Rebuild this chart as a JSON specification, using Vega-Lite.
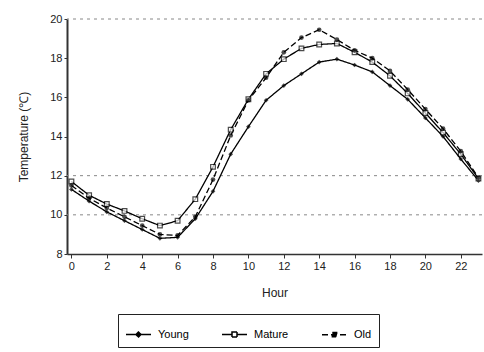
{
  "$schema": "https://vega.github.io/schema/vega-lite/v6.json",
  "autosize": {"type": "none"},
  "width": 415,
  "height": 235,
  "padding": {"left": 67, "top": 19, "right": 2, "bottom": 98},
  "background": "white",
  "config": {
    "font": "Liberation Sans",
    "view": {"stroke": null},
    "axis": {"labelFont": "Liberation Sans", "titleFont": "Liberation Sans", "labelColor": "#222", "titleColor": "#222", "domainColor": "#333", "tickColor": "#333", "grid": false, "labelOverlap": false},
    "axisX": {"values": [0,1,2,3,4,5,6,7,8,9,10,11,12,13,14,15,16,17,18,19,20,21,22,23], "labelExpr": "datum.value % 2 === 0 ? datum.label : ''", "titleFontSize": 12, "titleFontWeight": "normal", "labelFontSize": 11, "tickSize": 4, "titlePadding": 16, "domainWidth": 1.5},
    "axisY": {"values": [8,10,12,14,16,18,20], "titleFontSize": 12, "titleFontWeight": "normal", "labelFontSize": 11, "tickSize": 3, "titlePadding": 19, "domainWidth": 2}
  },
  "datasets": {
    "temps": [
      {"Hour": 0, "Stage": "Young", "T": 11.3}, {"Hour": 1, "Stage": "Young", "T": 10.7}, {"Hour": 2, "Stage": "Young", "T": 10.15}, {"Hour": 3, "Stage": "Young", "T": 9.7}, {"Hour": 4, "Stage": "Young", "T": 9.25}, {"Hour": 5, "Stage": "Young", "T": 8.8}, {"Hour": 6, "Stage": "Young", "T": 8.85}, {"Hour": 7, "Stage": "Young", "T": 9.8}, {"Hour": 8, "Stage": "Young", "T": 11.2}, {"Hour": 9, "Stage": "Young", "T": 13.1}, {"Hour": 10, "Stage": "Young", "T": 14.5}, {"Hour": 11, "Stage": "Young", "T": 15.85}, {"Hour": 12, "Stage": "Young", "T": 16.6}, {"Hour": 13, "Stage": "Young", "T": 17.2}, {"Hour": 14, "Stage": "Young", "T": 17.8}, {"Hour": 15, "Stage": "Young", "T": 17.95}, {"Hour": 16, "Stage": "Young", "T": 17.65}, {"Hour": 17, "Stage": "Young", "T": 17.3}, {"Hour": 18, "Stage": "Young", "T": 16.6}, {"Hour": 19, "Stage": "Young", "T": 15.9}, {"Hour": 20, "Stage": "Young", "T": 14.95}, {"Hour": 21, "Stage": "Young", "T": 14.0}, {"Hour": 22, "Stage": "Young", "T": 12.85}, {"Hour": 23, "Stage": "Young", "T": 11.75},
      {"Hour": 0, "Stage": "Mature", "T": 11.7}, {"Hour": 1, "Stage": "Mature", "T": 11.0}, {"Hour": 2, "Stage": "Mature", "T": 10.55}, {"Hour": 3, "Stage": "Mature", "T": 10.2}, {"Hour": 4, "Stage": "Mature", "T": 9.8}, {"Hour": 5, "Stage": "Mature", "T": 9.45}, {"Hour": 6, "Stage": "Mature", "T": 9.7}, {"Hour": 7, "Stage": "Mature", "T": 10.8}, {"Hour": 8, "Stage": "Mature", "T": 12.45}, {"Hour": 9, "Stage": "Mature", "T": 14.35}, {"Hour": 10, "Stage": "Mature", "T": 15.9}, {"Hour": 11, "Stage": "Mature", "T": 17.2}, {"Hour": 12, "Stage": "Mature", "T": 17.95}, {"Hour": 13, "Stage": "Mature", "T": 18.5}, {"Hour": 14, "Stage": "Mature", "T": 18.7}, {"Hour": 15, "Stage": "Mature", "T": 18.75}, {"Hour": 16, "Stage": "Mature", "T": 18.3}, {"Hour": 17, "Stage": "Mature", "T": 17.8}, {"Hour": 18, "Stage": "Mature", "T": 17.1}, {"Hour": 19, "Stage": "Mature", "T": 16.2}, {"Hour": 20, "Stage": "Mature", "T": 15.2}, {"Hour": 21, "Stage": "Mature", "T": 14.2}, {"Hour": 22, "Stage": "Mature", "T": 13.1}, {"Hour": 23, "Stage": "Mature", "T": 11.85},
      {"Hour": 0, "Stage": "Old", "T": 11.5}, {"Hour": 1, "Stage": "Old", "T": 10.85}, {"Hour": 2, "Stage": "Old", "T": 10.35}, {"Hour": 3, "Stage": "Old", "T": 9.9}, {"Hour": 4, "Stage": "Old", "T": 9.45}, {"Hour": 5, "Stage": "Old", "T": 9.0}, {"Hour": 6, "Stage": "Old", "T": 8.95}, {"Hour": 7, "Stage": "Old", "T": 9.9}, {"Hour": 8, "Stage": "Old", "T": 11.8}, {"Hour": 9, "Stage": "Old", "T": 14.05}, {"Hour": 10, "Stage": "Old", "T": 15.85}, {"Hour": 11, "Stage": "Old", "T": 17.0}, {"Hour": 12, "Stage": "Old", "T": 18.3}, {"Hour": 13, "Stage": "Old", "T": 19.05}, {"Hour": 14, "Stage": "Old", "T": 19.45}, {"Hour": 15, "Stage": "Old", "T": 18.95}, {"Hour": 16, "Stage": "Old", "T": 18.4}, {"Hour": 17, "Stage": "Old", "T": 18.0}, {"Hour": 18, "Stage": "Old", "T": 17.35}, {"Hour": 19, "Stage": "Old", "T": 16.4}, {"Hour": 20, "Stage": "Old", "T": 15.4}, {"Hour": 21, "Stage": "Old", "T": 14.4}, {"Hour": 22, "Stage": "Old", "T": 13.25}, {"Hour": 23, "Stage": "Old", "T": 11.9}
    ],
    "grid": [{"T": 10}, {"T": 12}, {"T": 20}]
  },
  "encoding": {
    "y": {"field": "T", "type": "quantitative", "scale": {"domain": [8, 20], "nice": false, "zero": false}, "title": "Temperature (℃)"}
  },
  "layer": [
    {
      "data": {"name": "grid"},
      "mark": {"type": "rule", "color": "#888", "strokeDash": [3, 4], "strokeWidth": 1},
      "encoding": {}
    },
    {
      "data": {"name": "temps"},
      "mark": {"type": "line", "color": "black", "strokeWidth": 1.3},
      "encoding": {
        "x": {"field": "Hour", "type": "quantitative", "scale": {"domain": [-0.25, 23.2], "nice": false, "zero": false}, "title": "Hour"},
        "strokeDash": {"field": "Stage", "type": "nominal", "scale": {"domain": ["Young", "Mature", "Old"], "range": [[1, 0], [1, 0], [6, 3]]},
                       "legend": {"title": null, "orient": "none", "legendX": 51, "legendY": 295, "direction": "horizontal", "strokeColor": "#222", "padding": 7, "labelFontSize": 11, "symbolSize": 625, "symbolStrokeWidth": 1.5, "symbolStrokeColor": "black", "columnPadding": 30, "labelOffset": 6,
                                  "encoding": {"symbols": {
                                    "shape": {"condition": [{"test": "datum.value === 'Young'", "value": "M-1,0H1M0,-0.2L0.2,0L0,0.2L-0.2,0Z"}, {"test": "datum.value === 'Mature'", "value": "M-1,0H-0.2M0.2,0H1M-0.2,-0.2H0.2V0.2H-0.2Z"}], "value": "M-1,0H1M-0.17,-0.17H0.17V0.17H-0.17Z"},
                                    "stroke": {"value": "black"},
                                    "fill": {"condition": {"test": "datum.value === 'Mature'", "value": "white"}, "value": "black"}
                                  }}}},
        "detail": {"field": "Stage"}
      }
    },
    {
      "data": {"name": "temps"},
      "transform": [{"filter": "datum.Stage === 'Young'"}],
      "mark": {"type": "point", "shape": "diamond", "filled": true, "color": "black", "size": 22},
      "encoding": {"x": {"field": "Hour", "type": "quantitative"}}
    },
    {
      "data": {"name": "temps"},
      "transform": [{"filter": "datum.Stage === 'Mature'"}],
      "mark": {"type": "point", "shape": "square", "fill": "white", "stroke": "black", "strokeWidth": 1.2, "size": 22},
      "encoding": {"x": {"field": "Hour", "type": "quantitative"}}
    },
    {
      "data": {"name": "temps"},
      "transform": [{"filter": "datum.Stage === 'Old'"}],
      "mark": {"type": "point", "shape": "circle", "filled": true, "color": "black", "size": 22},
      "encoding": {"x": {"field": "Hour", "type": "quantitative"}}
    }
  ]
}
